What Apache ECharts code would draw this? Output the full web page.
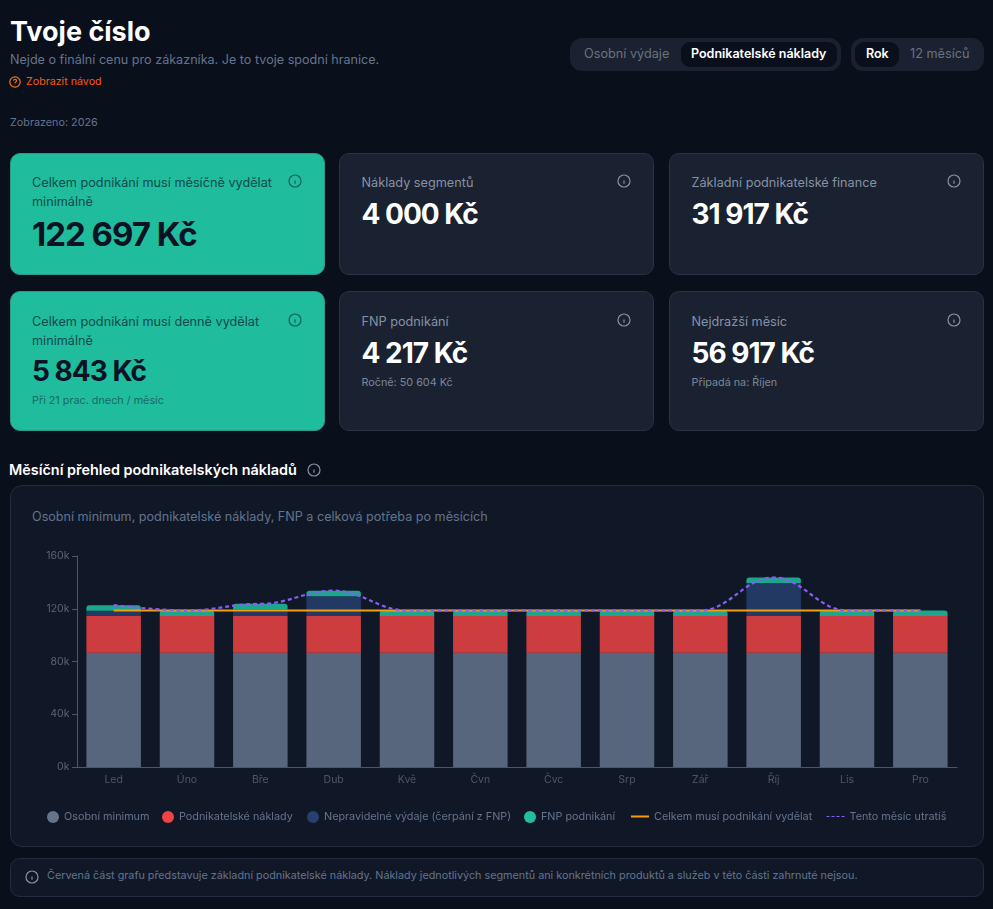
<!DOCTYPE html>
<html lang="cs">
<head>
<meta charset="utf-8">
<title>Tvoje číslo</title>
<script src="https://cdn.jsdelivr.net/npm/echarts@6/dist/echarts.min.js"></script>
<style>
  html, body { margin: 0; padding: 0; background: #0a0f1c; }
  body { position: relative; width: 993px; height: 909px; overflow: hidden; font-family: Inter, "Noto Sans", sans-serif; color: #fff; }
  .abs { position: absolute; white-space: nowrap; line-height: 1; }
  .card { position: absolute; box-sizing: border-box; border-radius: 10px; background: #1a2130; border: 1px solid #2a3344; }
  .card.green { background: #1fbd9d; border-color: #2a9a86; }
  .lbl { color: #8592a6; font-size: 12.7px; }
  .val { font-weight: 700; font-size: 28px; letter-spacing: -1px; }
  .sub { color: #7a8799; font-size: 10.8px; }
  .green-lbl { color: #124a4c; font-size: 12.7px; }
  .green-sub { color: #1a6a66; font-size: 10.8px; }
  .dark { color: #0a1224; }
  .pillbar { position: absolute; box-sizing: border-box; border-radius: 12px; background: #1a2130; top: 38px; height: 33px; }
  .pill { position: absolute; border-radius: 9px; background: #0a0f1c; top: 42px; height: 25px; }
  svg.ico { position: absolute; fill: none; stroke-width: 1.2; }
  #panel { position: absolute; box-sizing: border-box; left: 10px; top: 485px; width: 974px; height: 362px; background: #101828; border: 1px solid #242d3f; border-radius: 12px; }
  #note { position: absolute; box-sizing: border-box; left: 10px; top: 858px; width: 974px; height: 39px; background: #101828; border: 1px solid #242d3f; border-radius: 10px; }
  #main { position: absolute; left: 10px; top: 485px; width: 974px; height: 362px; }
</style>
</head>
<body>
  <div class="abs" style="left:10px;top:18px;font-size:27px;font-weight:700;">Tvoje číslo</div>
  <div class="abs" style="left:10px;top:54px;font-size:12.6px;color:#64748b;">Nejde o finální cenu pro zákazníka. Je to tvoje spodní hranice.</div>
  <svg class="ico" style="left:9px;top:76px;stroke:#f97316;" width="12" height="12" viewBox="0 0 12 12"><circle cx="6" cy="6" r="5.2"/><path d="M4.5 4.7a1.5 1.5 0 1 1 2.2 1.4c-.5.3-.7.6-.7 1.1M6 8.8v.1"/></svg>
  <div class="abs" style="left:26px;top:77px;font-size:10.7px;color:#f9580f;">Zobrazit návod</div>
  <div class="abs" style="left:10px;top:118px;font-size:10.8px;color:#64748b;">Zobrazeno: 2026</div>

  <div class="pillbar" style="left:570px;width:271px;"></div>
  <div class="pill" style="left:681px;width:156px;"></div>
  <div class="abs" style="left:584px;top:48px;font-size:12.7px;color:#6b7280;">Osobní výdaje</div>
  <div class="abs" style="left:691px;top:48px;font-size:12.5px;font-weight:600;">Podnikatelské náklady</div>
  <div class="pillbar" style="left:851px;width:133px;"></div>
  <div class="pill" style="left:855px;width:44px;"></div>
  <div class="abs" style="left:866px;top:48px;font-size:12.5px;font-weight:600;">Rok</div>
  <div class="abs" style="left:910px;top:48px;font-size:12.7px;color:#6b7280;">12 měsíců</div>

  <div class="card green" style="left:10px;top:153px;width:314.5px;height:122px;"></div>
  <div class="abs green-lbl" style="left:32px;top:177px;">Celkem podnikání musí měsíčně vydělat</div>
  <div class="abs green-lbl" style="left:32px;top:196px;">minimálně</div>
  <div class="abs val dark" style="left:32px;top:218px;font-size:33px;">122 697 Kč</div>

  <div class="card" style="left:339px;top:153px;width:315px;height:122px;"></div>
  <div class="abs lbl" style="left:361.5px;top:177px;">Náklady segmentů</div>
  <div class="abs val" style="left:361.5px;top:200px;">4 000 Kč</div>

  <div class="card" style="left:669px;top:153px;width:315px;height:122px;"></div>
  <div class="abs lbl" style="left:691.5px;top:177px;">Základní podnikatelské finance</div>
  <div class="abs val" style="left:691.5px;top:200px;">31 917 Kč</div>

  <div class="card green" style="left:10px;top:291px;width:314.5px;height:139.5px;"></div>
  <div class="abs green-lbl" style="left:32px;top:316px;">Celkem podnikání musí denně vydělat</div>
  <div class="abs green-lbl" style="left:32px;top:335px;">minimálně</div>
  <div class="abs val dark" style="left:32px;top:357px;">5 843 Kč</div>
  <div class="abs green-sub" style="left:32px;top:396px;">Při 21 prac. dnech / měsíc</div>

  <div class="card" style="left:339px;top:291px;width:315px;height:139.5px;"></div>
  <div class="abs lbl" style="left:361.5px;top:316px;">FNP podnikání</div>
  <div class="abs val" style="left:361.5px;top:339px;">4 217 Kč</div>
  <div class="abs sub" style="left:361.5px;top:378px;">Ročně: 50 604 Kč</div>

  <div class="card" style="left:669px;top:291px;width:315px;height:139.5px;"></div>
  <div class="abs lbl" style="left:691.5px;top:316px;">Nejdražší měsíc</div>
  <div class="abs val" style="left:691.5px;top:339px;">56 917 Kč</div>
  <div class="abs sub" style="left:691.5px;top:378px;">Připadá na: Říjen</div>

  <div id="icons"></div>

  <div class="abs" style="left:9px;top:463px;font-size:14.4px;font-weight:600;">Měsíční přehled podnikatelských nákladů</div>

  <div id="panel"></div>
  <div class="abs" style="left:32px;top:511px;font-size:12.6px;color:#64748b;">Osobní minimum, podnikatelské náklady, FNP a celková potřeba po měsících</div>
  <div id="main"></div>

  <div id="note"></div>
  <div class="abs" style="left:47px;top:871px;font-size:10.8px;color:#64748b;">Červená část grafu představuje základní podnikatelské náklady. Náklady jednotlivých segmentů ani konkrétních produktů a služeb v této části zahrnuté nejsou.</div>

<script>
const months = ['Led', 'Úno', 'Bře', 'Dub', 'Kvě', 'Čvn', 'Čvc', 'Srp', 'Zář', 'Říj', 'Lis', 'Pro'];
const osobniMinimum = [86563, 86563, 86563, 86563, 86563, 86563, 86563, 86563, 86563, 86563, 86563, 86563];
const podnikatelske = [27917, 27917, 27917, 27917, 27917, 27917, 27917, 27917, 27917, 27917, 27917, 27917];
const nepravidelne = [4000, 0, 5000, 15000, 0, 0, 0, 0, 0, 25000, 0, 0];
const fnp = [4217, 4217, 4217, 4217, 4217, 4217, 4217, 4217, 4217, 4217, 4217, 4217];
const celkemMusi = [118697, 118697, 118697, 118697, 118697, 118697, 118697, 118697, 118697, 118697, 118697, 118697];
const utratis = [122697, 118697, 123697, 133697, 118697, 118697, 118697, 118697, 118697, 143697, 118697, 118697];

// info ikonky v kartach a u nadpisu
const iconSpots = [
  [295, 181, '#14605c'], [624, 181, '#8592a6'], [954, 181, '#8592a6'],
  [295, 320, '#14605c'], [624, 320, '#8592a6'], [954, 320, '#8592a6'],
  [314, 470, '#8592a6'], [32, 877, '#8592a6']
];
document.getElementById('icons').innerHTML = iconSpots.map(function (s) {
  return '<svg class="ico" style="left:' + (s[0] - 7) + 'px;top:' + (s[1] - 7) + 'px;stroke:' + s[2] + ';z-index:5" width="14" height="14" viewBox="0 0 14 14">' +
    '<circle cx="7" cy="7" r="6"/><path d="M7 6.4v3.4M7 4.2v.1"/></svg>';
}).join('');

const myChart = echarts.init(document.getElementById('main'));
const axisGrey = '#4f5662';
const legendBase = {
  orient: 'horizontal', top: 326, padding: 0, selectedMode: false, itemGap: 0,
  textStyle: { color: '#64748b', fontSize: 10.8, fontFamily: 'Inter' }
};
function circleLegend(name, left) {
  return Object.assign({}, legendBase, {
    data: [{ name: name, icon: 'circle' }], left: left, itemWidth: 12, itemHeight: 12,
    itemStyle: { opacity: 1, borderWidth: 0 }
  });
}
function lineLegend(name, left, lineStyle) {
  // symbol u line legendy schovat, zustane jen cara
  return Object.assign({}, legendBase, {
    data: [name], left: left, itemWidth: 18, itemHeight: 12,
    lineStyle: lineStyle, itemStyle: { opacity: 0 }
  });
}

const option = {
  animation: false,
  backgroundColor: 'transparent',
  textStyle: { fontFamily: 'Inter' },
  grid: { left: 67, right: 27, top: 71, bottom: 80 },
  legend: [
    circleLegend('Osobní minimum', 37),
    circleLegend('Podnikatelské náklady', 152),
    circleLegend('Nepravidelné výdaje (čerpání z FNP)', 297),
    circleLegend('FNP podnikání', 514),
    lineLegend('Celkem musí podnikání vydělat', 620, { width: 2 }),
    lineLegend('Tento měsíc utratíš', 816, { width: 1, type: [3, 2] })
  ],
  xAxis: {
    type: 'category',
    data: months,
    axisLine: { lineStyle: { color: axisGrey } },
    axisTick: { alignWithLabel: true, length: 5, lineStyle: { color: axisGrey } },
    axisLabel: { color: '#4f5662', fontSize: 10.5, margin: 7 }
  },
  yAxis: {
    type: 'value',
    min: 0,
    max: 160000,
    interval: 40000,
    splitLine: { show: false },
    axisLine: { show: true, lineStyle: { color: axisGrey } },
    axisTick: { show: true, length: 5, lineStyle: { color: axisGrey } },
    axisLabel: {
      color: '#5b6472', fontSize: 10.5, margin: 7.5,
      formatter: function (v) { return v / 1000 + 'k'; }
    }
  },
  series: [
    { name: 'Osobní minimum', type: 'bar', stack: 'a', barWidth: 54.5, data: osobniMinimum, itemStyle: { color: '#64748b', opacity: 0.85 } },
    { name: 'Podnikatelské náklady', type: 'bar', stack: 'a', data: podnikatelske, itemStyle: { color: '#ef4444', opacity: 0.85 } },
    { name: 'Nepravidelné výdaje (čerpání z FNP)', type: 'bar', stack: 'a', data: nepravidelne, itemStyle: { color: '#26406f', opacity: 0.85 } },
    { name: 'FNP podnikání', type: 'bar', stack: 'a', data: fnp, itemStyle: { color: '#1fbf9f', opacity: 0.85, borderRadius: [3, 3, 0, 0] } },
    { name: 'Celkem musí podnikání vydělat', type: 'line', data: celkemMusi, symbol: 'none', z: 5, lineStyle: { color: '#f59e0b', width: 2 }, itemStyle: { color: '#f59e0b' } },
    { name: 'Tento měsíc utratíš', type: 'line', data: utratis, symbol: 'none', z: 6, smooth: 0.4, smoothMonotone: 'x', lineStyle: { color: '#8b5cf6', width: 2.2, type: [4, 3] }, itemStyle: { color: '#8b5cf6' } }
  ]
};
myChart.setOption(option);
</script>
</body>
</html>
